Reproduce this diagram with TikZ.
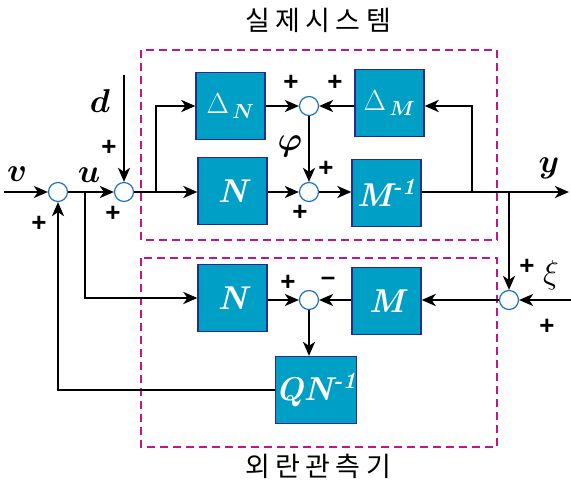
\RequirePackage{fix-cm}
\documentclass[tikz,border=0pt]{standalone}
\usepackage{amsmath,bm}
\usepackage{fontspec}
\newfontfamily\kr[LetterSpace=20]{Noto Sans CJK KR}
\newfontfamily\pl{Liberation Sans}
\usetikzlibrary{arrows.meta}
\definecolor{boxfill}{HTML}{00A0C6}
\definecolor{boxline}{HTML}{2B2A8C}
\definecolor{sumline}{HTML}{2074C4}
\definecolor{dashc}{HTML}{C0168C}
\tikzset{
  blk/.style={draw=boxline,fill=boxfill,line width=1.3pt,minimum width=69pt,minimum height=67pt,inner sep=0pt,text=white,font=\fontsize{33}{33}\selectfont\bfseries\itshape},
  dblk/.style={blk,font=\fontsize{29}{29}\selectfont},
  sumc/.style={circle,draw=sumline,fill=white,line width=1.2pt,minimum size=19pt,inner sep=0pt},
  sig/.style={line width=2.9pt},
  arr/.style={sig,-{Stealth[length=14pt,width=12pt,inset=4pt]}},
  lbl/.style={font=\fontsize{33}{33}\selectfont},
  pm/.style={font=\pl\bfseries\fontsize{26}{26}\selectfont},
  grp/.style={draw=dashc,line width=2pt,dash pattern=on 8pt off 5pt},
  ttl/.style={font=\kr\fontsize{27}{27}\selectfont}
}
\begin{document}
\begin{tikzpicture}[x=1pt,y=-1pt]
\useasboundingbox (0,0) rectangle (571,486);
% groups
\draw[grp] (141,50) rectangle (497,240);
\draw[grp] (141,258) rectangle (497,447);
\node[ttl] (t1) at (318,20) {실제시스템};
\node[ttl] (t2) at (318,466) {외란관측기};
% blocks
\node[dblk] (dN) at (230.5,106) {$\Delta_{\,\bm{N}}$};
\node[blk] (N1) at (232.5,191) {N};
\node[dblk] (dM) at (389.5,103) {$\Delta_{\,\bm{M}}$};
\node[blk] (Mi) at (386.5,193) {M\textsuperscript{-1}};
\node[blk] (N2) at (232.5,298) {N};
\node[blk] (M2) at (386.5,301) {M};
\node[blk] (Q) at (316,390) {QN\textsuperscript{-1}};
% sums
\node[sumc] (s1) at (58,192) {};
\node[sumc] (s2) at (124,192) {};
\node[sumc] (s3) at (309,106) {};
\node[sumc] (s4) at (309,192) {};
\node[sumc] (s5) at (509,300) {};
\node[sumc] (s6) at (309,300) {};
% coordinates
\coordinate (vin) at (4,192);
\coordinate (din) at (124,75);
\coordinate (yout) at (569,192);
\coordinate (xin) at (571,300);
\coordinate (bu) at (85,192);
\coordinate (bn) at (156,192);
\coordinate (by) at (472,192);
\coordinate (bx) at (509,192);
% connectors
\draw[arr] (vin) -- (s1);
\draw[arr] (s1) -- (s2);
\draw[arr] (din) -- (s2);
\draw[arr] (s2) -- (N1.west|-s2);
\draw[arr] (bn) |- (dN.west);
\draw[arr] (dN.east) -- (s3);
\draw[arr] (dM.west|-s3) -- (s3);
\draw[arr] (s3) -- (s4);
\draw[arr] (N1.east|-s4) -- (s4);
\draw[arr] (s4) -- (Mi.west|-s4);
\draw[arr] (Mi.east|-s4) -- (yout);
\draw[arr] (by) |- (dM.east|-s3);
\draw[arr] (bx) -- (s5);
\draw[arr] (xin) -- (s5);
\draw[arr] (s5) -- (M2.east|-s5);
\draw[arr] (M2.west|-s6) -- (s6);
\draw[arr] (N2.east|-s6) -- (s6);
\draw[arr] (s6) -- (s6|-Q.north);
\draw[arr] (bu) |- (N2.west);
\draw[arr] (Q.west) -| (s1);
% labels
\node[lbl] (lv) at (17,174) {$\bm{v}$};
\node[lbl] (lu) at (89,175) {$\bm{u}$};
\node[lbl] (ld) at (100,101) {$\bm{d}$};
\node[lbl] (ly) at (549,168) {$\bm{y}$};
\node[lbl] (lp) at (290,146) {$\bm{\varphi}$};
\node[lbl] (lx) at (551,275) {$\xi$};
\node[pm] (p1) at (39,224) {+};
\node[pm] (p2) at (109,148) {+};
\node[pm] (p3) at (113,214) {+};
\node[pm] (p4) at (291,83) {+};
\node[pm] (p5) at (335,83) {+};
\node[pm] (p6) at (326,169) {+};
\node[pm] (p7) at (300,213) {+};
\node[pm] (p8) at (527,267) {+};
\node[pm] (p9) at (547,327) {+};
\node[pm] (p10) at (288,283) {+};
\node[pm] (m1) at (328,281) {\textendash};
\end{tikzpicture}
\end{document}
